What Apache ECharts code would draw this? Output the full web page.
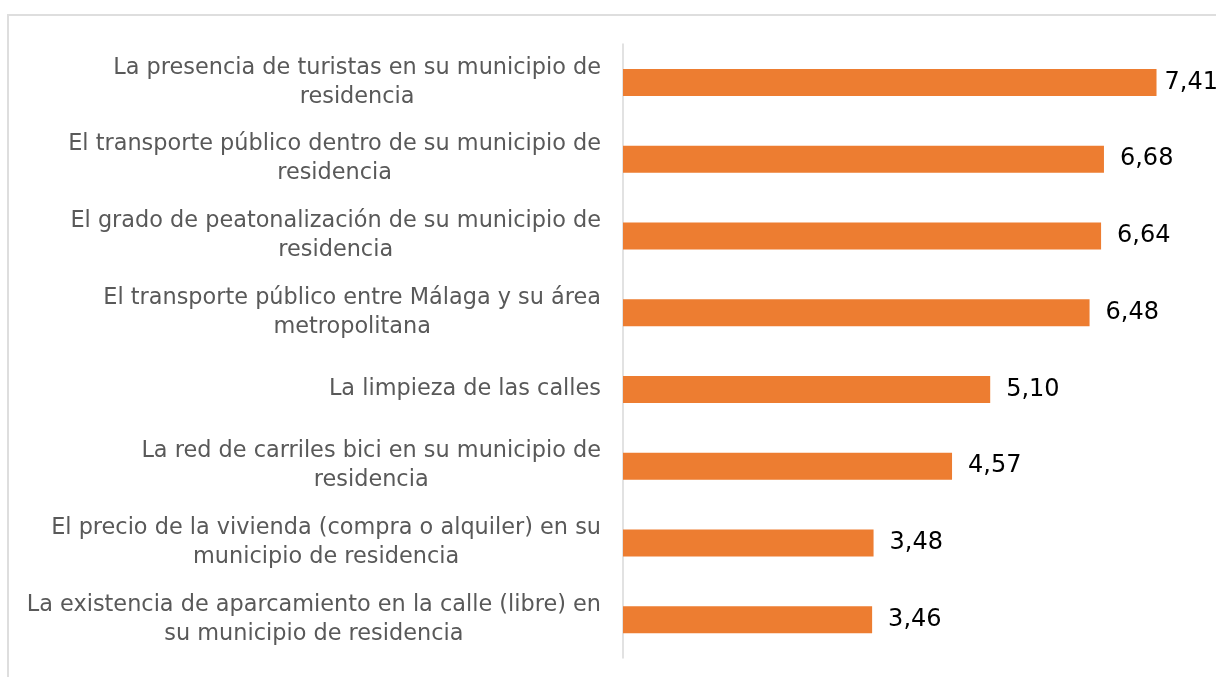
<!DOCTYPE html>
<html>
<head>
<meta charset="utf-8">
<script src="https://cdn.jsdelivr.net/npm/echarts@6/dist/echarts.min.js"></script>
<style>
  html, body { margin: 0; padding: 0; background: #fff; }
  #chart { width: 1216px; height: 677px; }
  .frame { position: absolute; left: 7px; top: 14px; width: 1300px; height: 700px;
           border: 2px solid #dedede; box-sizing: border-box; pointer-events: none; }
</style>
</head>
<body>
<div id="chart"></div>
<div class="frame"></div>
<script>
  // categories (top to bottom)
  const categories = [
    'La presencia de turistas en su municipio de\nresidencia',
    'El transporte público dentro de su municipio de\nresidencia',
    'El grado de peatonalización de su municipio de\nresidencia',
    'El transporte público entre Málaga y su área\nmetropolitana',
    'La limpieza de las calles',
    'La red de carriles bici en su municipio de\nresidencia',
    'El precio de la vivienda (compra o alquiler) en su\nmunicipio de residencia',
    'La existencia de aparcamiento en la calle (libre) en\nsu municipio de residencia'
  ]
  const values = [7.41, 6.68, 6.64, 6.48, 5.10, 4.57, 3.48, 3.46]

  const chart = echarts.init(document.getElementById('chart'))

  chart.setOption({
    animation: false,
    grid: {
      left: 623,
      right: 17,
      top: 44,
      bottom: 19
    },
    xAxis: {
      type: 'value',
      min: 0,
      max: 8,
      show: false
    },
    yAxis: {
      type: 'category',
      inverse: true,
      data: categories,
      axisTick: { show: false },
      axisLine: {
        show: true,
        lineStyle: { color: '#d9d9d9', width: 1.5 }
      },
      axisLabel: {
        margin: 22,
        color: '#595959',
        fontFamily: 'DejaVu Sans',
        fontSize: 22.4,
        lineHeight: 29,
        // center each line inside the label block
        formatter: function (val) {
          return val.split('\n').map(function (l) { return '{c|' + l + '}' }).join('\n')
        },
        rich: {
          c: { align: 'center', color: '#595959', fontFamily: 'DejaVu Sans', fontSize: 22.4, lineHeight: 29 }
        }
      }
    },
    series: [{
      type: 'bar',
      barWidth: 27,
      itemStyle: { color: '#ED7D31' },
      label: {
        show: true,
        position: 'right',
        distance: 16,
        color: '#000',
        fontFamily: 'DejaVu Sans',
        fontSize: 24,
        formatter: function (p) { return p.value.toFixed(2).replace('.', ',') }
      },
      data: values.map(function (v, i) {
        // first label sits closer to the bar (runs out of room on the right)
        return i === 0 ? { value: v, label: { distance: 8 } } : v
      })
    }]
  })
</script>
</body>
</html>
